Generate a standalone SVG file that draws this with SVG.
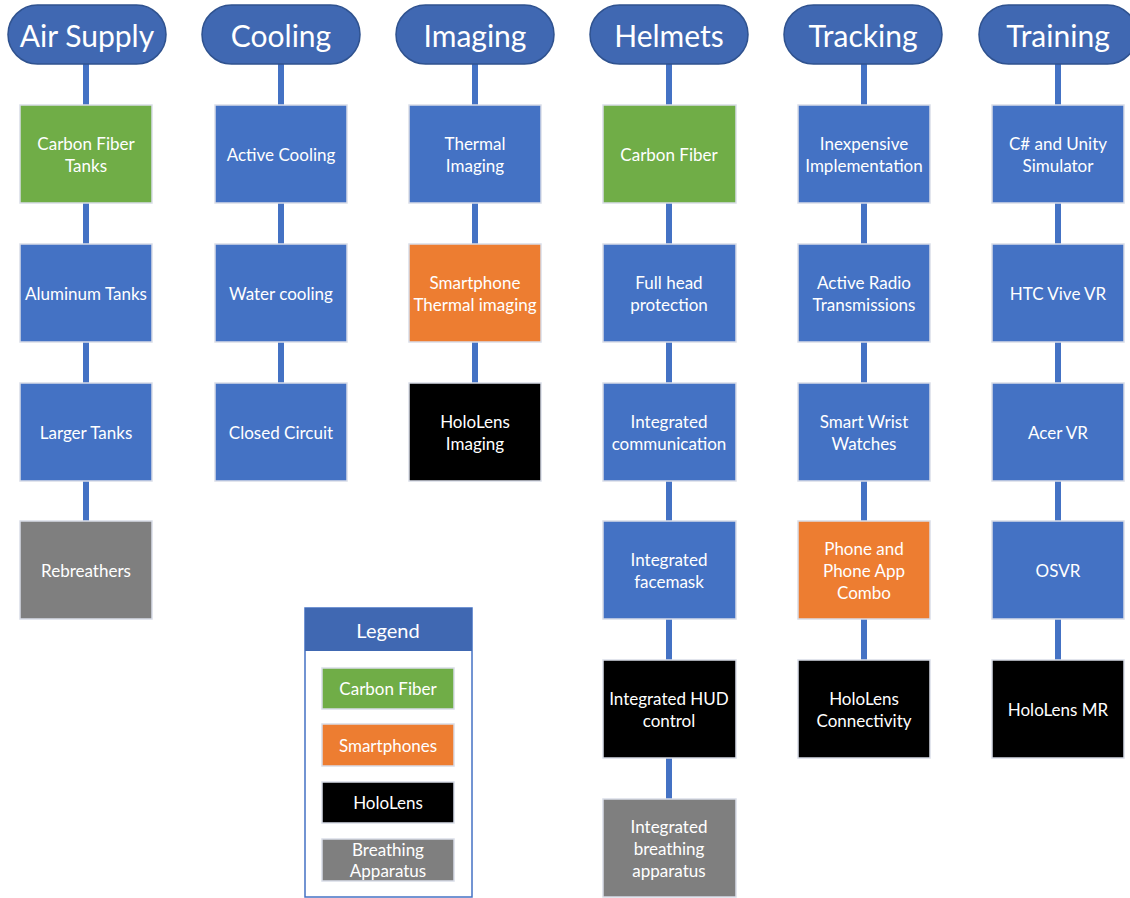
<svg xmlns="http://www.w3.org/2000/svg" width="1130" height="898" viewBox="0 0 1130 898">
<style>
.pill{fill:#4068B2;stroke:#2F528F;stroke-width:1.5}
.hd{font-family:Lato,"Liberation Sans",sans-serif;font-size:30px;fill:#fff;text-anchor:middle;dominant-baseline:central}
.bx{stroke:#D9DDE8;stroke-width:1.5}
.b{fill:#4472C4}.g{fill:#70AD47}.o{fill:#ED7D31}.k{fill:#000}.y{fill:#7F7F7F}
.t{font-family:Lato,"Liberation Sans",sans-serif;font-size:17px;fill:#fff;text-anchor:middle;dominant-baseline:central}
.ln{stroke:#4472C4;stroke-width:6;fill:none}
</style>
<rect width="1130" height="898" fill="#fff"/>
<g id="connectors">
<path class="ln" d="M86 64V105M86 203V244M86 342V383M86 481V521"/>
<path class="ln" d="M281 64V105M281 203V244M281 342V383"/>
<path class="ln" d="M475 64V105M475 203V244M475 342V383"/>
<path class="ln" d="M669 64V105M669 203V244M669 342V383M669 481V521M669 619V660M669 758V799"/>
<path class="ln" d="M864 64V105M864 203V244M864 342V383M864 481V521M864 619V660"/>
<path class="ln" d="M1058 64V105M1058 203V244M1058 342V383M1058 481V521M1058 619V660"/>
</g>
<g id="h-air"><rect class="pill" x="8" y="5" width="158" height="59" rx="29.5"/><text class="hd" x="87" y="35">Air Supply</text></g>
<g id="h-cool"><rect class="pill" x="202" y="5" width="158" height="59" rx="29.5"/><text class="hd" x="281" y="35">Cooling</text></g>
<g id="h-img"><rect class="pill" x="396" y="5" width="158" height="59" rx="29.5"/><text class="hd" x="475" y="35">Imaging</text></g>
<g id="h-helm"><rect class="pill" x="590" y="5" width="158" height="59" rx="29.5"/><text class="hd" x="669" y="35">Helmets</text></g>
<g id="h-track"><rect class="pill" x="784" y="5" width="158" height="59" rx="29.5"/><text class="hd" x="863" y="35">Tracking</text></g>
<g id="h-train"><rect class="pill" x="979" y="5" width="158" height="59" rx="29.5"/><text class="hd" x="1058" y="35">Training</text></g>

<g id="a1"><rect class="bx g" x="20" y="105" width="132" height="98"/><text class="t" x="86" y="143">Carbon Fiber</text><text class="t" x="86" y="165">Tanks</text></g>
<g id="a2"><rect class="bx b" x="20" y="244" width="132" height="98"/><text class="t" x="86" y="293">Aluminum Tanks</text></g>
<g id="a3"><rect class="bx b" x="20" y="383" width="132" height="98"/><text class="t" x="86" y="432">Larger Tanks</text></g>
<g id="a4"><rect class="bx y" x="20" y="521" width="132" height="98"/><text class="t" x="86" y="570">Rebreathers</text></g>

<g id="c1"><rect class="bx b" x="215" y="105" width="132" height="98"/><text class="t" x="281" y="154">Active Cooling</text></g>
<g id="c2"><rect class="bx b" x="215" y="244" width="132" height="98"/><text class="t" x="281" y="293">Water cooling</text></g>
<g id="c3"><rect class="bx b" x="215" y="383" width="132" height="98"/><text class="t" x="281" y="432">Closed Circuit</text></g>

<g id="i1"><rect class="bx b" x="409" y="105" width="132" height="98"/><text class="t" x="475" y="143">Thermal</text><text class="t" x="475" y="165">Imaging</text></g>
<g id="i2"><rect class="bx o" x="409" y="244" width="132" height="98"/><text class="t" x="475" y="282">Smartphone</text><text class="t" x="475" y="304">Thermal imaging</text></g>
<g id="i3"><rect class="bx k" x="409" y="383" width="132" height="98"/><text class="t" x="475" y="421">HoloLens</text><text class="t" x="475" y="443">Imaging</text></g>

<g id="m1"><rect class="bx g" x="603" y="105" width="133" height="98"/><text class="t" x="669" y="154">Carbon Fiber</text></g>
<g id="m2"><rect class="bx b" x="603" y="244" width="133" height="98"/><text class="t" x="669" y="282">Full head</text><text class="t" x="669" y="304">protection</text></g>
<g id="m3"><rect class="bx b" x="603" y="383" width="133" height="98"/><text class="t" x="669" y="421">Integrated</text><text class="t" x="669" y="443">communication</text></g>
<g id="m4"><rect class="bx b" x="603" y="521" width="133" height="98"/><text class="t" x="669" y="559">Integrated</text><text class="t" x="669" y="581">facemask</text></g>
<g id="m5"><rect class="bx k" x="603" y="660" width="133" height="98"/><text class="t" x="669" y="698">Integrated HUD</text><text class="t" x="669" y="720">control</text></g>
<g id="m6"><rect class="bx y" x="603" y="799" width="133" height="98"/><text class="t" x="669" y="826">Integrated</text><text class="t" x="669" y="848">breathing</text><text class="t" x="669" y="870">apparatus</text></g>

<g id="t1"><rect class="bx b" x="798" y="105" width="132" height="98"/><text class="t" x="864" y="143">Inexpensive</text><text class="t" x="864" y="165">Implementation</text></g>
<g id="t2"><rect class="bx b" x="798" y="244" width="132" height="98"/><text class="t" x="864" y="282">Active Radio</text><text class="t" x="864" y="304">Transmissions</text></g>
<g id="t3"><rect class="bx b" x="798" y="383" width="132" height="98"/><text class="t" x="864" y="421">Smart Wrist</text><text class="t" x="864" y="443">Watches</text></g>
<g id="t4"><rect class="bx o" x="798" y="521" width="132" height="98"/><text class="t" x="864" y="548">Phone and</text><text class="t" x="864" y="570">Phone App</text><text class="t" x="864" y="592">Combo</text></g>
<g id="t5"><rect class="bx k" x="798" y="660" width="132" height="98"/><text class="t" x="864" y="698">HoloLens</text><text class="t" x="864" y="720">Connectivity</text></g>

<g id="r1"><rect class="bx b" x="992" y="105" width="132" height="98"/><text class="t" x="1058" y="143">C# and Unity</text><text class="t" x="1058" y="165">Simulator</text></g>
<g id="r2"><rect class="bx b" x="992" y="244" width="132" height="98"/><text class="t" x="1058" y="293">HTC Vive VR</text></g>
<g id="r3"><rect class="bx b" x="992" y="383" width="132" height="98"/><text class="t" x="1058" y="432">Acer VR</text></g>
<g id="r4"><rect class="bx b" x="992" y="521" width="132" height="98"/><text class="t" x="1058" y="570">OSVR</text></g>
<g id="r5"><rect class="bx k" x="992" y="660" width="132" height="98"/><text class="t" x="1058" y="709">HoloLens MR</text></g>

<g id="legend">
<rect x="305" y="608" width="167" height="289" fill="#fff" stroke="#4472C4" stroke-width="1.5"/>
<rect x="305" y="608" width="167" height="43" fill="#4068B2"/>
<text class="t" x="388" y="630" style="font-size:20px">Legend</text>
<rect class="bx g" x="322" y="668" width="132" height="41"/><text class="t" x="388" y="688">Carbon Fiber</text>
<rect class="bx o" x="322" y="724" width="132" height="42"/><text class="t" x="388" y="745">Smartphones</text>
<rect class="bx k" x="322" y="782" width="132" height="41"/><text class="t" x="388" y="802">HoloLens</text>
<rect class="bx y" x="322" y="839" width="132" height="42"/><text class="t" x="388" y="849">Breathing</text><text class="t" x="388" y="870">Apparatus</text>
</g>
</svg>
